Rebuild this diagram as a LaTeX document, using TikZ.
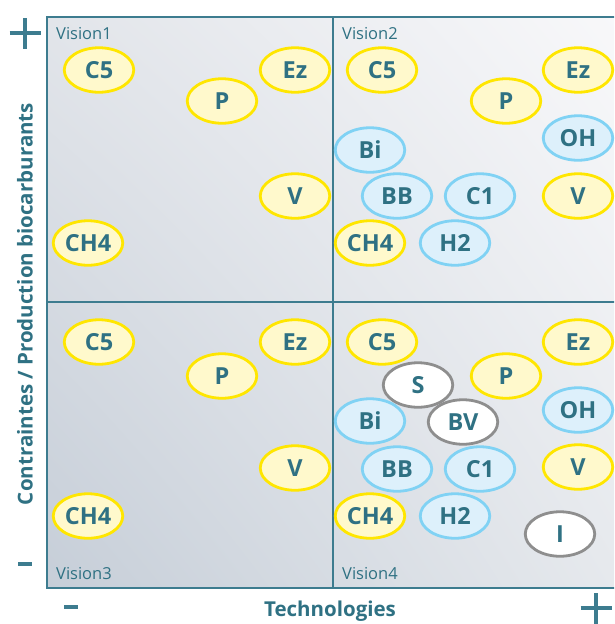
\documentclass[tikz,border=0pt]{standalone}
\usepackage{fontspec}
\setmainfont{Open Sans}
\usetikzlibrary{shapes.geometric, shadings}

\definecolor{ink}{HTML}{2F7183}
\definecolor{framec}{HTML}{3D7C8F}
\definecolor{yelline}{HTML}{FFE600}
\definecolor{yelfill}{HTML}{FFF9CC}
\definecolor{bluline}{HTML}{80D2F4}
\definecolor{blufill}{HTML}{DDF0FB}
\definecolor{gryline}{HTML}{8E8E8E}
\definecolor{bgul}{HTML}{E2E5EA}
\definecolor{bgur}{HTML}{F8F8FA}
\definecolor{bgll}{HTML}{C6CED8}
\definecolor{bglr}{HTML}{E6E9ED}

\tikzset{
  ell/.style={ellipse, minimum width=69.5pt, minimum height=44.5pt, inner sep=0pt,
    line width=2.8pt, text=ink, font=\bfseries\fontsize{23.5}{23.5}\selectfont},
  yel/.style={ell, draw=yelline, fill=yelfill},
  blu/.style={ell, draw=bluline, fill=blufill},
  gry/.style={ell, draw=gryline, fill=white},
  vis/.style={anchor=base west, text=ink, inner sep=0pt, font=\fontsize{16.5}{16.5}\selectfont},
  axlab/.style={text=ink, inner sep=0pt, font=\bfseries\fontsize{20.5}{20.5}\selectfont},
  sign/.style={draw=framec, line width=3.4pt},
}

\begin{document}
\begin{tikzpicture}[x=1pt, y=-1pt]
\useasboundingbox (0,0) rectangle (614,624);
\clip (0,0) rectangle (614,624);

% shaded field and its quadrants
\shade[upper left=bgul, upper right=bgur, lower left=bgll, lower right=bglr]
  (47,17) rectangle (620,588);
\draw[framec, line width=2.7pt] (47,17) rectangle (620,588);
\draw[framec, line width=2.7pt] (333,17) -- (333,588);
\draw[framec, line width=2.7pt] (47,302) -- (620,302);

% quadrant names
\node[vis] (v1) at (56,39) {Vision1};
\node[vis] (v2) at (342,39) {Vision2};
\node[vis] (v3) at (56,579) {Vision3};
\node[vis] (v4) at (342,579) {Vision4};

% axes
\node[axlab, anchor=base] (xlab) at (330,616) {Technologies};
\node[axlab, rotate=90] (ylab) at (25,304) {Contraintes / Production biocarburants};
\coordinate (pl1) at (25,33);
\draw[sign] ([xshift=-15.5pt]pl1) -- ([xshift=15.5pt]pl1);
\draw[sign] ([yshift=-15.5pt]pl1) -- ([yshift=15.5pt]pl1);
\coordinate (pl2) at (596,608);
\draw[sign] ([xshift=-15.5pt]pl2) -- ([xshift=15.5pt]pl2);
\draw[sign] ([yshift=-15.5pt]pl2) -- ([yshift=15.5pt]pl2);
\coordinate (mi1) at (25,564);
\draw[sign] ([xshift=-7pt]mi1) -- ([xshift=7pt]mi1);
\coordinate (mi2) at (71,607);
\draw[sign] ([xshift=-7pt]mi2) -- ([xshift=7pt]mi2);

% Vision1
\node[yel] (a1) at (99,70) {C5};
\node[yel] (a2) at (295,70) {Ez};
\node[yel] (a3) at (222,101) {P};
\node[yel] (a4) at (295,196) {V};
\node[yel] (a5) at (88,243) {CH4};

% Vision2
\node[yel] (b1) at (382,70) {C5};
\node[yel] (b2) at (578,70) {Ez};
\node[yel] (b3) at (506,101) {P};
\node[blu] (b4) at (370,150) {Bi};
\node[blu] (b5) at (578,138) {OH};
\node[blu] (b6) at (397,196) {BB};
\node[blu] (b7) at (480,196) {C1};
\node[yel] (b8) at (578,196) {V};
\node[yel] (b9) at (370,243) {CH4};
\node[blu] (b10) at (455,243) {H2};

% Vision3
\node[yel] (c1) at (99,342) {C5};
\node[yel] (c2) at (295,342) {Ez};
\node[yel] (c3) at (222,376) {P};
\node[yel] (c4) at (295,468) {V};
\node[yel] (c5) at (88,516) {CH4};

% Vision4
\node[yel] (d1) at (382,342) {C5};
\node[yel] (d2) at (578,342) {Ez};
\node[yel] (d3) at (506,376) {P};
\node[gry] (d4) at (418,385) {S};
\node[blu] (d5) at (370,421) {Bi};
\node[gry] (d6) at (463,422) {BV};
\node[blu] (d7) at (578,410) {OH};
\node[blu] (d8) at (397,469) {BB};
\node[blu] (d9) at (480,469) {C1};
\node[yel] (d10) at (578,467) {V};
\node[yel] (d11) at (370,516) {CH4};
\node[blu] (d12) at (455,516) {H2};
\node[gry] (d13) at (560,534) {I};
\end{tikzpicture}
\end{document}
